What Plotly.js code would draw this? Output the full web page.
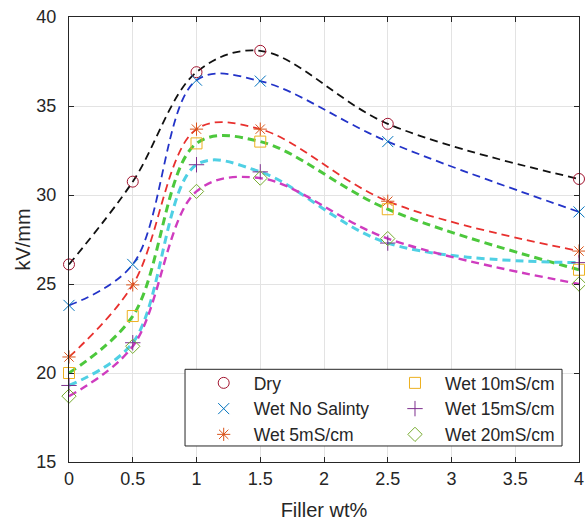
<!DOCTYPE html>
<html>
<head>
<meta charset="utf-8">
<script src="https://cdn.plot.ly/plotly-3.0.1.min.js"></script>
<style>html,body{margin:0;padding:0;background:#fff;}#chart{width:585px;height:521px;}</style>
</head>
<body>
<div id="chart"></div>
<script>
const fillerWt = [0, 0.5, 1, 1.5, 2.5, 4];
const seriesNames = ["Dry", "Wet No Salinty", "Wet 5mS/cm", "Wet 10mS/cm", "Wet 15mS/cm", "Wet 20mS/cm"];
const dry      = [26.1, 30.75, 36.9, 38.1, 34.0, 30.9];
const wetNoSal = [23.8, 26.1, 36.45, 36.4, 33.0, 29.05];
const wet5     = [20.9, 24.95, 33.7, 33.7, 29.65, 26.85];
const wet10    = [20.0, 23.2, 32.9, 33.0, 29.2, 25.8];
const wet15    = [19.3, 21.7, 31.7, 31.3, 27.3, 26.2];
const wet20    = [18.7, 21.5, 30.2, 30.95, 27.55, 25.0];
const xTickVals = [0, 0.5, 1, 1.5, 2, 2.5, 3, 3.5, 4];
const xTickText = ["0", "0.5", "1", "1.5", "2", "2.5", "3", "3.5", "4"];
const yTickVals = [15, 20, 25, 30, 35, 40];

const values = [dry, wetNoSal, wet5, wet10, wet15, wet20];
const lineColors = ["#111111", "#2333c8", "#e8302e", "#4cc83c", "#50d0e4", "#cf3cbf"];
const lineWidths = [1.8, 1.8, 1.8, 3, 3, 2.4];
const markerColors = ["#A2142F", "#0072BD", "#D95319", "#EDB120", "#7E2F8E", "#77AC30"];
const markerSymbols = ["circle-open", "x-thin-open", "asterisk-open", "square-open", "cross-thin-open", "diamond-open"];
const legendGroupOf = ["legend", "legend", "legend", "legend2", "legend2", "legend2"];

const traces = [];
values.forEach((ys, i) => {
  traces.push({
    x: fillerWt, y: ys, type: "scatter", mode: "lines",
    line: {shape: "spline", smoothing: 1, color: lineColors[i], width: lineWidths[i], dash: "8px,5px"},
    showlegend: false, hoverinfo: "skip"
  });
});
values.forEach((ys, i) => {
  traces.push({
    x: fillerWt, y: ys, type: "scatter", mode: "markers", name: seriesNames[i],
    cliponaxis: false, legend: legendGroupOf[i],
    marker: {symbol: markerSymbols[i], size: 11, color: markerColors[i], line: {color: markerColors[i], width: 1}}
  });
});

const legendCommon = {
  orientation: "v", yanchor: "top", xanchor: "left",
  bgcolor: "rgba(0,0,0,0)", borderwidth: 0, itemwidth: 50,
  font: {size: 17.5, color: "#262626"}, traceorder: "normal"
};

const layout = {
  width: 585, height: 521,
  margin: {l: 69, r: 6, t: 17, b: 59},
  paper_bgcolor: "#fff", plot_bgcolor: "#fff",
  font: {family: "Liberation Sans, Arial, sans-serif", size: 18, color: "#262626"},
  xaxis: {
    range: [0, 4], tickvals: xTickVals, ticktext: xTickText, automargin: false,
    showgrid: true, gridcolor: "#e3e3e3", zeroline: false,
    showline: true, linecolor: "#262626", linewidth: 1, mirror: "ticks",
    ticks: "inside", ticklen: 5, tickcolor: "#262626",
    title: {text: "Filler wt%", font: {size: 20}, standoff: 19}
  },
  yaxis: {
    range: [15, 40], tickvals: yTickVals, automargin: false,
    showgrid: true, gridcolor: "#e3e3e3", zeroline: false,
    showline: true, linecolor: "#262626", linewidth: 1, mirror: "ticks",
    ticks: "inside", ticklen: 5, tickcolor: "#262626", ticklabelstandoff: 8,
    title: {text: "kV/mm", font: {size: 20}, standoff: 0}
  },
  legend: Object.assign({x: 0.2445, y: 0.218}, legendCommon),
  legend2: Object.assign({x: 0.6196, y: 0.218}, legendCommon),
  shapes: [{
    type: "rect", xref: "paper", yref: "paper", layer: "above",
    x0: 0.2275, x1: 0.9667, y0: 0.036, y1: 0.2083,
    fillcolor: "#fff", line: {color: "#262626", width: 1}
  }],
  showlegend: true
};

Plotly.newPlot("chart", traces, layout, {staticPlot: true, displayModeBar: false});
</script>
</body>
</html>
